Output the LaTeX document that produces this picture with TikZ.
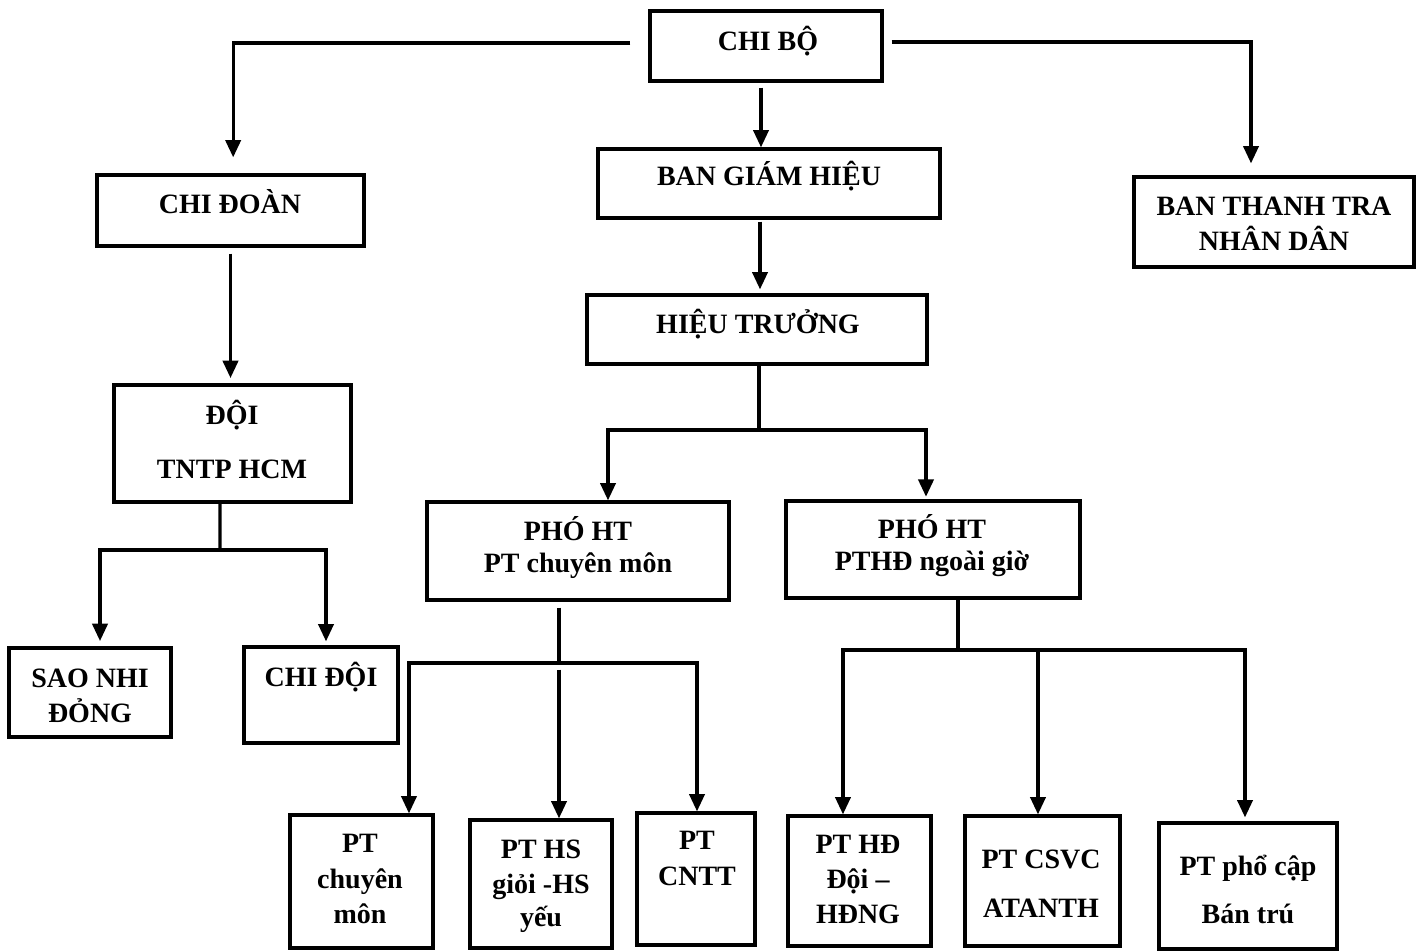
\documentclass[tikz,border=0pt]{standalone}
\usepackage{fontspec}
\setmainfont{Liberation Serif}
\usetikzlibrary{arrows.meta}
\begin{document}
\begin{tikzpicture}[x=0.75pt,y=0.75pt,yscale=-1,xscale=1,
  box/.style={draw, line width=2.5pt, inner sep=0pt},
  txt/.style={anchor=base, inner sep=0pt, font=\bfseries\fontsize{21}{25}\selectfont},
  wire/.style={line width=2.3pt},
  link/.style={line width=2.3pt, -{Triangle[length=13pt,width=11.5pt]}}]
\useasboundingbox (0,0) rectangle (1426,951);

%Boxes
\node[box, minimum width=174pt, minimum height=52.5pt] (chibo) at (766,46) {};
\node[box, minimum width=256.5pt, minimum height=51.75pt] (bgh) at (769,183.5) {};
\node[box, minimum width=255pt, minimum height=51.75pt] (ht) at (757,329.5) {};
\node[box, minimum width=210pt, minimum height=67.5pt] (bttnd) at (1274,222) {};
\node[box, minimum width=200.25pt, minimum height=53.25pt] (chidoan) at (230.5,210.5) {};
\node[box, minimum width=177.75pt, minimum height=87.75pt] (doi) at (232.5,443.5) {};
\node[box, minimum width=121.5pt, minimum height=66.75pt] (saonhi) at (90,692.5) {};
\node[box, minimum width=115.5pt, minimum height=72pt] (chidoi) at (321,695) {};
\node[box, minimum width=226.5pt, minimum height=73.5pt] (pho1) at (578,551) {};
\node[box, minimum width=220.5pt, minimum height=72.75pt] (pho2) at (933,549.5) {};
\node[box, minimum width=107.25pt, minimum height=99.75pt] (ptcm) at (361.5,881.5) {};
\node[box, minimum width=106.5pt, minimum height=96pt] (pths) at (541,884) {};
\node[box, minimum width=88.5pt, minimum height=99pt] (cntt) at (696,879) {};
\node[box, minimum width=107.25pt, minimum height=97.5pt] (pthd) at (859.5,881) {};
\node[box, minimum width=116.25pt, minimum height=97.5pt] (csvc) at (1042.5,881) {};
\node[box, minimum width=133.5pt, minimum height=94.5pt] (pcap) at (1248,886) {};

%Text
\node[txt] (chibo-t) at (768,50) {CHI BỘ};
\node[txt] (bgh-t) at (769,185) {BAN GIÁM HIỆU};
\node[txt] (ht-t) at (758,333) {HIỆU TRƯỞNG};
\node[txt] (bttnd-t1) at (1274,215) {BAN THANH TRA};
\node[txt] (bttnd-t2) at (1274,250) {NHÂN DÂN};
\node[txt] (chidoan-t) at (230,213) {CHI ĐOÀN};
\node[txt] (doi-t1) at (232,424) {ĐỘI};
\node[txt] (doi-t2) at (232,478) {TNTP HCM};
\node[txt] (saonhi-t1) at (90,687) {SAO NHI};
\node[txt] (saonhi-t2) at (90,722) {ĐỎNG};
\node[txt] (chidoi-t) at (321,686) {CHI ĐỘI};
\node[txt] (pho1-t1) at (578,540) {PHÓ HT};
\node[txt] (pho1-t2) at (578,572) {PT chuyên môn};
\node[txt] (pho2-t1) at (932,538) {PHÓ HT};
\node[txt] (pho2-t2) at (932,570) {PTHĐ ngoài giờ};
\node[txt] (ptcm-t1) at (360,852) {PT};
\node[txt] (ptcm-t2) at (360,888) {chuyên};
\node[txt] (ptcm-t3) at (360,923) {môn};
\node[txt] (pths-t1) at (541,858) {PT HS};
\node[txt] (pths-t2) at (541,893) {giỏi -HS};
\node[txt] (pths-t3) at (541,926) {yếu};
\node[txt] (cntt-t1) at (697,849) {PT};
\node[txt] (cntt-t2) at (697,885) {CNTT};
\node[txt] (pthd-t1) at (858,853) {PT HĐ};
\node[txt] (pthd-t2) at (858,888) {Đội –};
\node[txt] (pthd-t3) at (858,923) {HĐNG};
\node[txt] (csvc-t1) at (1041,868) {PT CSVC};
\node[txt] (csvc-t2) at (1041,917) {ATANTH};
\node[txt] (pcap-t1) at (1248,875) {PT phổ cập};
\node[txt] (pcap-t2) at (1248,923) {Bán trú};

%Junctions
\coordinate (htj) at (759,430);
\coordinate (doij) at (220,550);
\coordinate (p1j) at (559,663);
\coordinate (p2j) at (958,650);

%Connectors
\draw[link, shorten >=12pt] ([shift={(-18,-3)}]chibo.west) -| ([xshift=2pt]chidoan.north);
\draw[link, shorten >=9pt] ([shift={(8,-4)}]chibo.east) -| ([xshift=-17.25pt]bttnd.north);
\draw[link] ([shift={(-5,5)}]chibo.south) -- ([xshift=-6pt]bgh.north);
\draw[link, shorten >=3pt] ([shift={(-9,2)}]bgh.south) -- ([xshift=2.25pt]ht.north);

\draw[wire] ([xshift=1.5pt]ht.south) -- (htj);
\draw[link] (htj) -| ([xshift=22.5pt]pho1.north);
\draw[link, shorten >=2pt] (htj) -| ([xshift=-5.25pt]pho2.north);

\draw[link, shorten >=4pt] ([yshift=4.5pt]chidoan.south) -- (chidoan.south |- doi.north);
\draw[wire] ([xshift=-9.4pt]doi.south) -- (doij);
\draw[link, shorten >=4pt] (doij) -| ([xshift=7.5pt]saonhi.north);
\draw[link, shorten >=3pt] (doij) -| ([xshift=3.75pt]chidoi.north);

\draw[wire] ([shift={(-19,6)}]pho1.south) -- (p1j);
\draw[link] (p1j) -| ([xshift=35.6pt]ptcm.north);
\draw[link] ([yshift=5pt]p1j) -- ([xshift=13.5pt]pths.north);
\draw[link] (p1j) -| ([xshift=0.75pt]cntt.north);

\draw[wire] ([xshift=18.75pt]pho2.south) -- (p2j);
\draw[link] (p2j) -| ([xshift=-12.4pt]pthd.north);
\draw[link] (p2j) -| ([xshift=-3.4pt]csvc.north);
\draw[link, shorten >=3pt] (p2j) -| ([xshift=-2.25pt]pcap.north);

\end{tikzpicture}
\end{document}
